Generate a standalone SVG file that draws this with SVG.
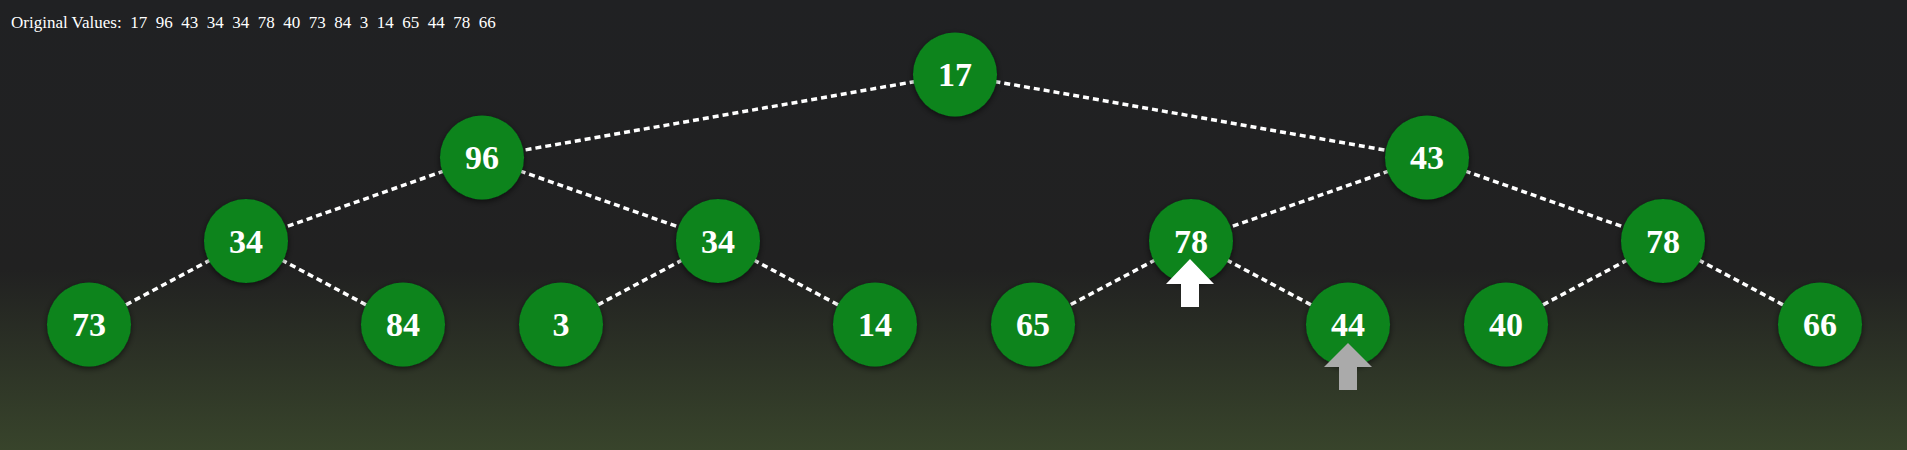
<svg xmlns="http://www.w3.org/2000/svg" width="1907" height="450" viewBox="0 0 1907 450">
<defs>
<linearGradient id="bg" x1="0" y1="0" x2="0" y2="1">
<stop offset="0" stop-color="#202123"/>
<stop offset="0.6" stop-color="#212121"/>
<stop offset="1" stop-color="#38442b"/>
</linearGradient>
<filter id="sh" x="-30%" y="-30%" width="160%" height="160%">
<feDropShadow dx="0" dy="2" stdDeviation="3" flood-color="#000" flood-opacity="0.6"/>
</filter>
</defs>
<style>
.edge{stroke:#ffffff;stroke-width:3.5;stroke-dasharray:6 4;fill:none}
.node circle{fill:#08841c;filter:url(#sh)}
.node text{fill:#ffffff;font-family:"Liberation Serif","Times New Roman",serif;font-weight:bold;font-size:34px;text-anchor:middle}
.hdr{fill:#ffffff;font-family:"Liberation Serif","Times New Roman",serif;font-size:17px;white-space:pre}
</style>
<rect x="0" y="0" width="1907" height="450" fill="url(#bg)"/>
<text class="hdr" x="11" y="28" xml:space="preserve">Original Values:  17  96  43  34  34  78  40  73  84  3  14  65  44  78  66</text>
<g id="connectors">
<line class="edge" x1="955" y1="74.5" x2="482" y2="157.5"/>
<line class="edge" x1="955" y1="74.5" x2="1427" y2="157.5"/>
<line class="edge" x1="482" y1="157.5" x2="246" y2="241"/>
<line class="edge" x1="482" y1="157.5" x2="718" y2="241"/>
<line class="edge" x1="1427" y1="157.5" x2="1191" y2="241"/>
<line class="edge" x1="1427" y1="157.5" x2="1663" y2="241"/>
<line class="edge" x1="246" y1="241" x2="89" y2="324.5"/>
<line class="edge" x1="246" y1="241" x2="403" y2="324.5"/>
<line class="edge" x1="718" y1="241" x2="561" y2="324.5"/>
<line class="edge" x1="718" y1="241" x2="875" y2="324.5"/>
<line class="edge" x1="1191" y1="241" x2="1033" y2="324.5"/>
<line class="edge" x1="1191" y1="241" x2="1348" y2="324.5"/>
<line class="edge" x1="1663" y1="241" x2="1506" y2="324.5"/>
<line class="edge" x1="1663" y1="241" x2="1820" y2="324.5"/>
</g>
<g id="n0" class="node"><circle cx="955" cy="74.5" r="42"/><text x="955" y="86">17</text></g>
<g id="n1" class="node"><circle cx="482" cy="157.5" r="42"/><text x="482" y="169">96</text></g>
<g id="n2" class="node"><circle cx="1427" cy="157.5" r="42"/><text x="1427" y="169">43</text></g>
<g id="n3" class="node"><circle cx="246" cy="241" r="42"/><text x="246" y="252.5">34</text></g>
<g id="n4" class="node"><circle cx="718" cy="241" r="42"/><text x="718" y="252.5">34</text></g>
<g id="n5" class="node"><circle cx="1191" cy="241" r="42"/><text x="1191" y="252.5">78</text></g>
<g id="n6" class="node"><circle cx="1663" cy="241" r="42"/><text x="1663" y="252.5">78</text></g>
<g id="n7" class="node"><circle cx="89" cy="324.5" r="42"/><text x="89" y="336">73</text></g>
<g id="n8" class="node"><circle cx="403" cy="324.5" r="42"/><text x="403" y="336">84</text></g>
<g id="n9" class="node"><circle cx="561" cy="324.5" r="42"/><text x="561" y="336">3</text></g>
<g id="n10" class="node"><circle cx="875" cy="324.5" r="42"/><text x="875" y="336">14</text></g>
<g id="n11" class="node"><circle cx="1033" cy="324.5" r="42"/><text x="1033" y="336">65</text></g>
<g id="n12" class="node"><circle cx="1348" cy="324.5" r="42"/><text x="1348" y="336">44</text></g>
<g id="n13" class="node"><circle cx="1506" cy="324.5" r="42"/><text x="1506" y="336">40</text></g>
<g id="n14" class="node"><circle cx="1820" cy="324.5" r="42"/><text x="1820" y="336">66</text></g>
<g id="pointer-white"><polygon points="1190,259 1214,284 1199,284 1199,307 1181,307 1181,284 1166,284" fill="#ffffff"/></g>
<g id="pointer-gray"><polygon points="1348,343 1372,367 1357,367 1357,390 1339,390 1339,367 1324,367" fill="#aaaaaa"/></g>
</svg>
